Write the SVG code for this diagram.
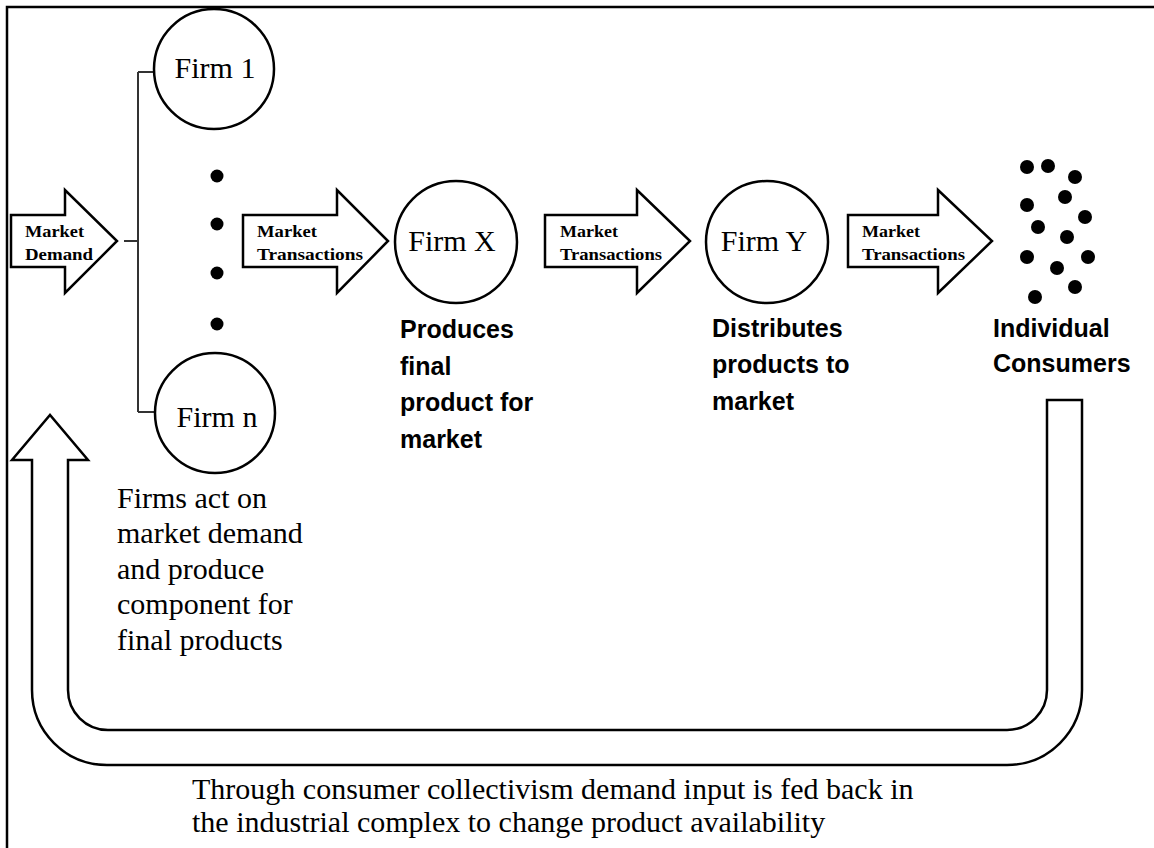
<svg xmlns="http://www.w3.org/2000/svg" width="1154" height="848" viewBox="0 0 1154 848">
<style>
.bg{fill:#fff}
.frame{fill:none;stroke:#000;stroke-width:2.5}
.node{fill:#fff;stroke:#000;stroke-width:2.5}
.arrow{fill:#fff;stroke:#000;stroke-width:2.5;stroke-linejoin:miter}
.conn{fill:none;stroke:#333;stroke-width:2}
.dot{fill:#000}
.firm{font-family:"Liberation Serif","Times New Roman",serif;font-size:30px;fill:#000;text-anchor:middle}
.atxt{font-family:"Liberation Serif","Times New Roman",serif;font-size:17px;font-weight:bold;fill:#000}
.ser{font-family:"Liberation Serif","Times New Roman",serif;font-size:30px;fill:#000}
.sans{font-family:"Liberation Sans",Arial,sans-serif;font-size:25px;font-weight:bold;fill:#000}
</style>
<rect class="bg" x="0" y="0" width="1154" height="848"/>
<path class="frame" d="M7,852 V7 H1160"/>

<g id="connectors">
  <path class="conn" d="M124,241 H138 M138,72 V412 M138,72 H154 M138,412 H155"/>
</g>

<g id="arrow-market-demand">
  <path class="arrow" d="M11,215 H65 V190 L117,241 L65,293 V267 H11 Z"/>
  <text class="atxt" x="25" y="237" textLength="59" lengthAdjust="spacingAndGlyphs">Market</text>
  <text class="atxt" x="25" y="260" textLength="68" lengthAdjust="spacingAndGlyphs">Demand</text>
</g>

<g id="firm-1">
  <circle class="node" cx="214" cy="69" r="60"/>
  <text class="firm" x="215" y="78">Firm 1</text>
</g>

<g id="ellipsis-dots">
  <circle class="dot" cx="217" cy="176" r="6.5"/>
  <circle class="dot" cx="217" cy="224" r="6.5"/>
  <circle class="dot" cx="217" cy="273" r="6.5"/>
  <circle class="dot" cx="217" cy="324" r="6.5"/>
</g>

<g id="firm-n">
  <circle class="node" cx="215" cy="413" r="60"/>
  <text class="firm" x="217" y="427">Firm n</text>
</g>

<g id="firms-note">
  <text class="ser" x="117" y="508">Firms act on</text>
  <text class="ser" x="117" y="543">market demand</text>
  <text class="ser" x="117" y="579">and produce</text>
  <text class="ser" x="117" y="614">component for</text>
  <text class="ser" x="117" y="650">final products</text>
</g>

<g id="arrow-transactions-1">
  <path class="arrow" d="M243,215 H337 V190 L388,241 L337,293 V267 H243 Z"/>
  <text class="atxt" x="257" y="237" textLength="60" lengthAdjust="spacingAndGlyphs">Market</text>
  <text class="atxt" x="257" y="260" textLength="106" lengthAdjust="spacingAndGlyphs">Transactions</text>
</g>

<g id="firm-x">
  <circle class="node" cx="456" cy="242" r="61"/>
  <text class="firm" x="452" y="251">Firm X</text>
  <text class="sans" x="400" y="338">Produces</text>
  <text class="sans" x="400" y="375">final</text>
  <text class="sans" x="400" y="411">product for</text>
  <text class="sans" x="400" y="448">market</text>
</g>

<g id="arrow-transactions-2">
  <path class="arrow" d="M545,215 H637 V190 L690,241 L637,293 V267 H545 Z"/>
  <text class="atxt" x="560" y="237" textLength="58" lengthAdjust="spacingAndGlyphs">Market</text>
  <text class="atxt" x="560" y="260" textLength="102" lengthAdjust="spacingAndGlyphs">Transactions</text>
</g>

<g id="firm-y">
  <circle class="node" cx="767" cy="242" r="61"/>
  <text class="firm" x="764" y="251">Firm Y</text>
  <text class="sans" x="712" y="337">Distributes</text>
  <text class="sans" x="712" y="373">products to</text>
  <text class="sans" x="712" y="410">market</text>
</g>

<g id="arrow-transactions-3">
  <path class="arrow" d="M848,215 H938 V190 L992,241 L938,293 V267 H848 Z"/>
  <text class="atxt" x="862" y="237" textLength="58" lengthAdjust="spacingAndGlyphs">Market</text>
  <text class="atxt" x="862" y="260" textLength="103" lengthAdjust="spacingAndGlyphs">Transactions</text>
</g>

<g id="individual-consumers">
  <circle class="dot" cx="1027" cy="167" r="7"/>
  <circle class="dot" cx="1048" cy="166" r="7"/>
  <circle class="dot" cx="1075" cy="177" r="7"/>
  <circle class="dot" cx="1027" cy="205" r="7"/>
  <circle class="dot" cx="1065" cy="197" r="7"/>
  <circle class="dot" cx="1085" cy="217" r="7"/>
  <circle class="dot" cx="1038" cy="227" r="7"/>
  <circle class="dot" cx="1067" cy="237" r="7"/>
  <circle class="dot" cx="1027" cy="257" r="7"/>
  <circle class="dot" cx="1088" cy="257" r="7"/>
  <circle class="dot" cx="1057" cy="268" r="7"/>
  <circle class="dot" cx="1075" cy="287" r="7"/>
  <circle class="dot" cx="1035" cy="297" r="7"/>
  <text class="sans" x="993" y="337">Individual</text>
  <text class="sans" x="993" y="372">Consumers</text>
</g>

<g id="feedback-arrow">
  <path class="arrow" d="M68,460 H88 L50,415 L12,460 H32 V690 A75,75 0 0 0 107,765 H1007 A75,75 0 0 0 1082,690 V400 H1047 V690 A40,40 0 0 1 1007,730 H108 A40,40 0 0 1 68,690 Z"/>
  <text class="ser" x="192" y="799">Through consumer collectivism demand input is fed back in</text>
  <text class="ser" x="192" y="832">the industrial complex to change product availability</text>
</g>
</svg>
